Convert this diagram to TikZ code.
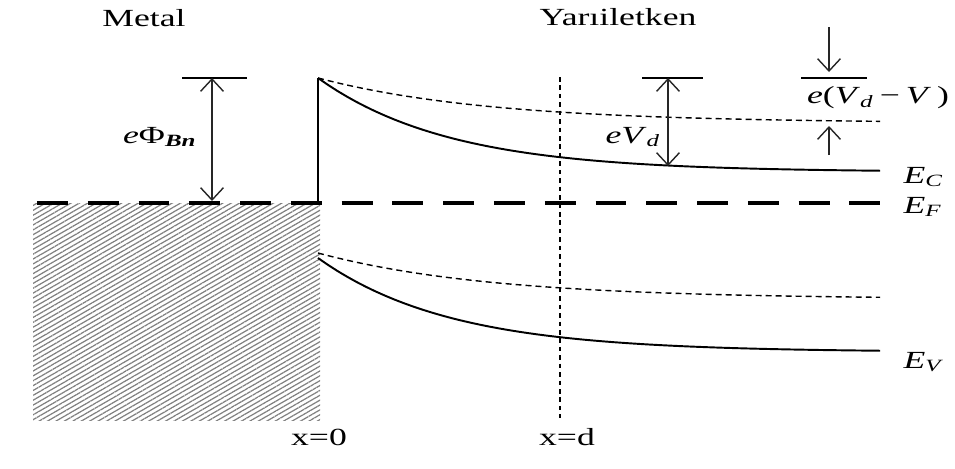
\documentclass[tikz,border=0pt]{standalone}
\usepackage{fontspec}
\setmainfont{Liberation Serif}
\usetikzlibrary{arrows.meta,patterns.meta}
\tikzset{
  band/.style={line width=1.1pt},
  bandshift/.style={line width=0.8pt,dash pattern=on 3.4pt off 2.3pt},
  fermi/.style={line width=2.8pt,dash pattern=on 17.6pt off 11.3pt},
  depthline/.style={line width=1pt,dash pattern=on 2.6pt off 2.2pt},
  gap/.style={line width=0.8pt,black!85},
  levelbar/.style={line width=1pt},
  lbl/.style={font=\fontsize{14}{16}\selectfont,xscale=1.45,inner sep=0pt},
}

\begin{document}
\begin{tikzpicture}[x=0.02cm,y=-0.02cm,>={Straight Barb[length=7pt,width=13pt]}]
  \useasboundingbox (0,0) rectangle (955,468);
  % metal side
  \fill[pattern={Lines[angle=30,distance=2.4pt,line width=0.7pt]},pattern color=gray]
    (33,203) rectangle (320,420);
  \draw[fermi] (37,203) -- (883,203);
  \draw[band] (318,203) -- (318,78);
  % bands
  \draw[band] plot[domain=318:880,samples=60] (\x,{172-94*exp(-(\x-318)/131)});
  \draw[bandshift] plot[domain=318:880,samples=60] (\x,{123-45*exp(-(\x-318)/171)});
  \draw[band] plot[domain=318:880,samples=60] (\x,{352-94*exp(-(\x-318)/131)});
  \draw[bandshift] plot[domain=318:880,samples=60] (\x,{299-46*exp(-(\x-318)/171)});
  % x=d
  \coordinate (dtop) at (560,77);
  \coordinate (dbot) at (560,418);
  \draw[depthline] (dtop) -- (dbot);
  % barrier height
  \draw[levelbar] (182,78) -- (247,78);
  \coordinate (phitop) at (212,78);
  \coordinate (phibot) at (212,201);
  \draw[gap,<->] (phitop) -- (phibot);
  % built-in potential
  \draw[levelbar] (642,78) -- (703,78);
  \coordinate (vdtop) at (668,78);
  \coordinate (vdbot) at (668,166);
  \draw[gap,<->] (vdtop) -- (vdbot);
  % reduced barrier
  \draw[levelbar] (801,78) -- (867,78);
  \coordinate (downstart) at (829,27);
  \coordinate (downend) at (829,72);
  \draw[gap,->] (downstart) -- (downend);
  \coordinate (upstart) at (829,155);
  \coordinate (upend) at (829,126);
  \draw[gap,->] (upstart) -- (upend);
  % labels
  \node[lbl] (metal) at (144,18) {Metal};
  \node[lbl] (semi) at (618,17) {Yarıiletken};
  \node[lbl] (phi) at (160,137) {\textit{e}Φ\textsubscript{\textbf{\textit{Bn}}}};
  \node[lbl] (vd) at (633,137) {\textit{eV}\textsubscript{\textit{d}}};
  \node[lbl] (vdv) at (878,98) {\textit{e}(\textit{V}\textsubscript{\textit{d}}\,−\,\textit{V}\,)};
  \node[lbl,anchor=west] (ec) at (903,177) {\textit{E}\textsubscript{\textit{C}}};
  \node[lbl,anchor=west] (ef) at (903,207) {\textit{E}\textsubscript{\textit{F}}};
  \node[lbl,anchor=west] (ev) at (903,362) {\textit{E}\textsubscript{\textit{V}}};
  \node[lbl] (x0) at (319,437) {x=0};
  \node[lbl] (xd) at (567,437) {x=d};
\end{tikzpicture}
\end{document}
